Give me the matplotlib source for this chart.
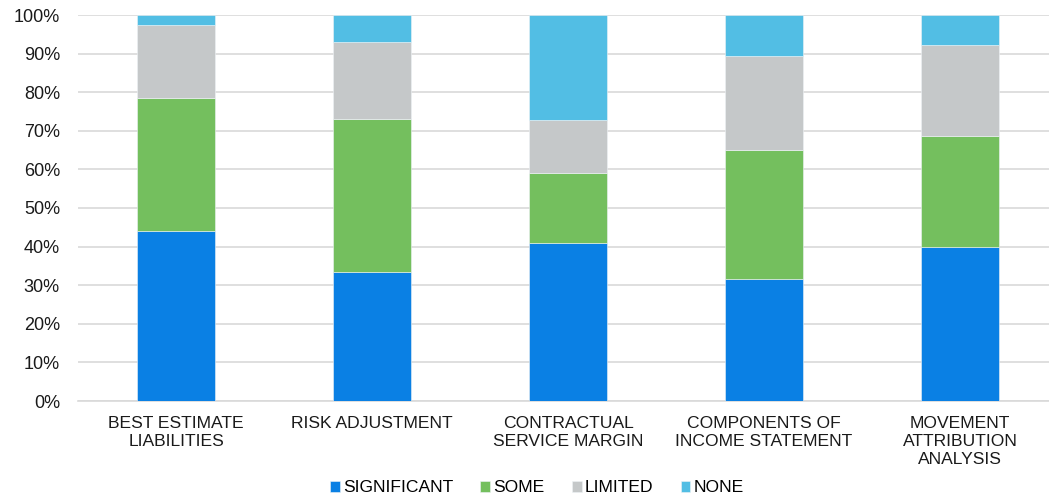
import numpy as np
import matplotlib.pyplot as plt
from matplotlib.ticker import PercentFormatter

plt.rcParams['font.family'] = ['Liberation Sans', 'DejaVu Sans']

# Dados
categories = ['BEST ESTIMATE\nLIABILITIES', 'RISK ADJUSTMENT', 'CONTRACTUAL\nSERVICE MARGIN',
              'COMPONENTS OF\nINCOME STATEMENT', 'MOVEMENT\nATTRIBUTION\nANALYSIS']
significant = [44.0, 33.4, 40.9, 31.6, 39.9]
some = [34.5, 39.7, 18.2, 33.4, 28.8]
limited = [18.9, 19.9, 13.7, 24.4, 23.5]
none_ = [2.6, 7.0, 27.2, 10.6, 7.8]

series = [('SIGNIFICANT', significant, '#0A80E4'),
          ('SOME', some, '#74BF5E'),
          ('LIMITED', limited, '#C5C8C9'),
          ('NONE', none_, '#52BEE4')]

fs = 12.6
fig = plt.figure(figsize=(10.49, 5.0), dpi=100)
ax = fig.add_axes([78 / 1049, 99 / 500, 980 / 1049, 386 / 500])

x = np.arange(len(categories))
bottom = np.zeros(len(categories))
for label, vals, color in series:
    ax.bar(x, vals, bottom=bottom, width=0.398, color=color, label=label,
           edgecolor='#eef3f6', linewidth=0.4, zorder=3)
    bottom += np.array(vals)

ax.set_xlim(-0.5, len(categories) - 0.5)
ax.set_ylim(0, 100)
ax.set_yticks(np.arange(0, 101, 10))
ax.yaxis.set_major_formatter(PercentFormatter(decimals=0))
ax.set_xticks(x)
ax.set_xticklabels(categories, fontsize=fs, color='#1a1a1a', linespacing=1.25)
ax.tick_params(axis='y', labelsize=fs + 0.4, colors='#1a1a1a', length=0, pad=13)
ax.tick_params(axis='x', length=0, pad=11)
ax.grid(axis='y', color='#d9d9d9', linewidth=1.2, zorder=0)
for s in ['top', 'right', 'left']:
    ax.spines[s].set_visible(False)
ax.spines['bottom'].set_color('#d9d9d9')
ax.spines['bottom'].set_linewidth(1.2)

fig.legend(loc='center', bbox_to_anchor=(537 / 1049, 1 - 488 / 500), ncol=4, frameon=False,
           fontsize=fs, handlelength=0.55, handleheight=0.55, handletextpad=0.2,
           columnspacing=1.55)

plt.savefig('out.png', dpi=100)
